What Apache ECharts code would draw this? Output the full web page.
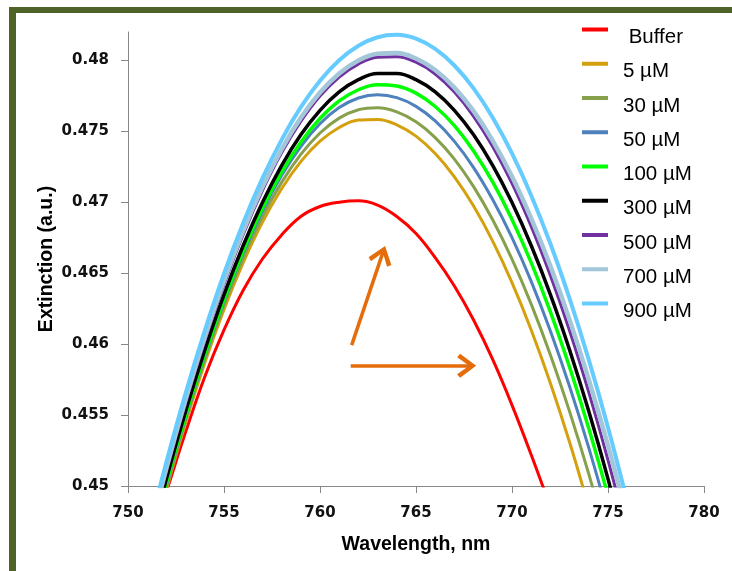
<!DOCTYPE html>
<html>
<head>
<meta charset="utf-8">
<script src="https://cdn.jsdelivr.net/npm/echarts@6/dist/echarts.min.js"></script>
<style>
  html, body { margin: 0; padding: 0; background: #fff; }
  #main { width: 732px; height: 571px; }
</style>
</head>
<body>
<div id="main"></div>
<script>
// wavelength grid, nm
var wavelengths = [751, 752, 753, 754, 755, 756, 757, 758, 759, 760, 761, 762, 763,
  764, 765, 766, 767, 768, 769, 770, 771, 772, 773, 774, 775, 776];

var seriesNames = [' Buffer', '5 µM', '30 µM', '50 µM', '100 µM', '300 µM', '500 µM', '700 µM', '900 µM'];

// extinction values, one array per concentration
var buffer = [0.4455, 0.4496, 0.4538, 0.4577, 0.4610, 0.4638, 0.4660, 0.4677, 0.4690, 0.4697, 0.4700, 0.4701,
  0.4698, 0.4690, 0.4678, 0.4661, 0.4641, 0.4617, 0.4589, 0.4557, 0.4522, 0.4485];
var c5 = [0.4446, 0.44975, 0.45445, 0.45868, 0.46244, 0.46574, 0.46858, 0.47095, 0.47286, 0.4743, 0.47527, 0.47579,
  0.47584, 0.47546, 0.47466, 0.47343, 0.47179, 0.46973, 0.46724, 0.46433, 0.461, 0.45725, 0.45308, 0.44848];
var c30 = [0.44483, 0.45, 0.45471, 0.45896, 0.46276, 0.4661, 0.46898, 0.4714, 0.47337, 0.47488, 0.47593, 0.47652,
  0.47666, 0.47637, 0.47567, 0.47456, 0.47304, 0.4711, 0.46875, 0.46599, 0.46282, 0.45924, 0.45524, 0.45084, 0.44602];
var c50 = [0.44476, 0.45, 0.45479, 0.45912, 0.46299, 0.46641, 0.46937, 0.47188, 0.47393, 0.47553, 0.47667, 0.47735,
  0.47758, 0.47737, 0.47676, 0.47573, 0.47429, 0.47244, 0.47017, 0.4675, 0.46442, 0.46092, 0.45701, 0.45269, 0.44796];
var c100 = [0.445, 0.4502, 0.45495, 0.45927, 0.46314, 0.46657, 0.46957, 0.47212, 0.47423, 0.4759, 0.47714, 0.47793,
  0.47828, 0.4782, 0.47769, 0.47675, 0.4754, 0.47362, 0.47142, 0.46879, 0.46574, 0.46227, 0.45837, 0.45406, 0.44931, 0.44414];
var c300 = [0.4453, 0.4505, 0.45526, 0.45959, 0.46349, 0.46695, 0.46998, 0.47258, 0.47475, 0.47648, 0.47778, 0.47864,
  0.47908, 0.47908, 0.47864, 0.47778, 0.47648, 0.47475, 0.47258, 0.46998, 0.46695, 0.46349, 0.45959, 0.45526, 0.4505, 0.4453];
var c500 = [0.44575, 0.45102, 0.45585, 0.46024, 0.4642, 0.46773, 0.47082, 0.47348, 0.47569, 0.47748, 0.47883, 0.47974,
  0.48022, 0.48026, 0.47987, 0.47904, 0.47777, 0.47606, 0.47391, 0.47133, 0.4683, 0.46484, 0.46094, 0.4566, 0.45183, 0.44661];
var c700 = [0.44601, 0.45127, 0.4561, 0.4605, 0.46446, 0.46798, 0.47107, 0.47373, 0.47595, 0.47773, 0.47908, 0.47999,
  0.48047, 0.48052, 0.48013, 0.47932, 0.47808, 0.47642, 0.47433, 0.47182, 0.46887, 0.4655, 0.46171, 0.45749, 0.45284, 0.44777];
var c900 = [0.44642, 0.45169, 0.45654, 0.46096, 0.46496, 0.46853, 0.47168, 0.4744, 0.4767, 0.47857, 0.48001, 0.48103,
  0.48163, 0.4818, 0.48153, 0.48081, 0.47964, 0.47803, 0.47596, 0.47344, 0.47048, 0.46707, 0.4632, 0.45889, 0.45413, 0.44892];

var yTicks = [0.45, 0.455, 0.46, 0.465, 0.47, 0.475, 0.48];

// arrows: [start, end] in data coords
var arrowUp = [[761.65, 0.45993], [763.29, 0.46652]];
var arrowRight = [[761.6, 0.45847], [767.82, 0.45847]];

var colors = ['#FF0000', '#D4A00E', '#86A04C', '#4F81BD', '#00FF00', '#000000', '#7030A0', '#A3C6D8', '#66CCFF'];
var widths = [3, 3, 3, 3, 3.5, 3.5, 3, 4.5, 4];
var values = [buffer, c5, c30, c50, c100, c300, c500, c700, c900];

var myChart = echarts.init(document.getElementById('main'));

var lineSeries = values.map(function (vals, i) {
  return {
    name: seriesNames[i],
    type: 'line',
    data: vals.map(function (v, k) { return [wavelengths[k], v]; }),
    smooth: 0.4,
    showSymbol: false,
    clip: true,
    lineStyle: { color: colors[i], width: widths[i] },
    itemStyle: { color: colors[i] }
  };
});

// open arrow head, tip up; the lone point at the top moves the box centre near the tip
var chevron = 'path://M12 0 L24 16 L20.5 19 L12 7 L3.5 19 L0 16 Z M12 -7 L12.01 -7 Z';

lineSeries.push({
  name: 'arrows',
  type: 'line',
  data: [],
  markLine: {
    silent: true,
    animation: false,
    symbol: ['none', chevron],
    symbolSize: [24, 26],
    label: { show: false },
    lineStyle: { color: '#E46C0A', width: 3.5, type: 'solid' },
    emphasis: { disabled: true },
    data: [
      [{ coord: arrowUp[0] }, { coord: arrowUp[1] }],
      [{ coord: arrowRight[0] }, { coord: arrowRight[1] }]
    ]
  }
});

var labelFont = { fontFamily: 'DejaVu Sans', fontWeight: 'bold', fontSize: 15, color: '#111' };
var nameFont = { fontFamily: 'Liberation Sans', fontWeight: 'bold', fontSize: 19.5, color: '#000' };

const option = {
  backgroundColor: '#fff',
  animation: false,
  graphic: [
    { type: 'rect', shape: { x: 9, y: 7, width: 723, height: 6 }, style: { fill: '#4F6228' } },
    { type: 'rect', shape: { x: 9, y: 7, width: 7, height: 564 }, style: { fill: '#4F6228' } }
  ],
  grid: { left: 128, right: 28, top: 32, bottom: 85 },
  legend: {
    data: seriesNames,
    orient: 'vertical',
    left: 582,
    top: 27,
    padding: 0,
    // line sits at the top of a 20px box so the text hangs below it
    icon: 'path://M0 0 H26 V4 H0 Z M0 20 L0.01 20 Z',
    itemWidth: 26,
    itemHeight: 20,
    itemGap: 13.25,
    textStyle: {
      fontFamily: 'Liberation Sans',
      fontSize: 20.5,
      color: '#000',
      padding: [0, 0, 0, 10]
    }
  },
  xAxis: {
    type: 'value',
    min: 750,
    max: 780,
    interval: 5,
    name: 'Wavelength, nm',
    nameLocation: 'middle',
    nameGap: 49,
    nameTextStyle: nameFont,
    axisLine: { lineStyle: { color: '#888', width: 1 } },
    axisTick: { show: true, length: 7, lineStyle: { color: '#888' } },
    axisLabel: Object.assign({ margin: 20 }, labelFont),
    splitLine: { show: false }
  },
  yAxis: {
    type: 'value',
    min: 0.45,
    max: 0.482,
    name: 'Extinction (a.u.)',
    nameLocation: 'middle',
    nameGap: 71,
    nameMoveOverlap: false,
    nameTextStyle: nameFont,
    axisLine: { show: true, lineStyle: { color: '#888', width: 1 } },
    axisTick: { show: true, length: 7, lineStyle: { color: '#888' }, customValues: yTicks },
    axisLabel: Object.assign({ margin: 19, customValues: yTicks }, labelFont),
    splitLine: { show: false }
  },
  series: lineSeries
};

myChart.setOption(option);
</script>
</body>
</html>
